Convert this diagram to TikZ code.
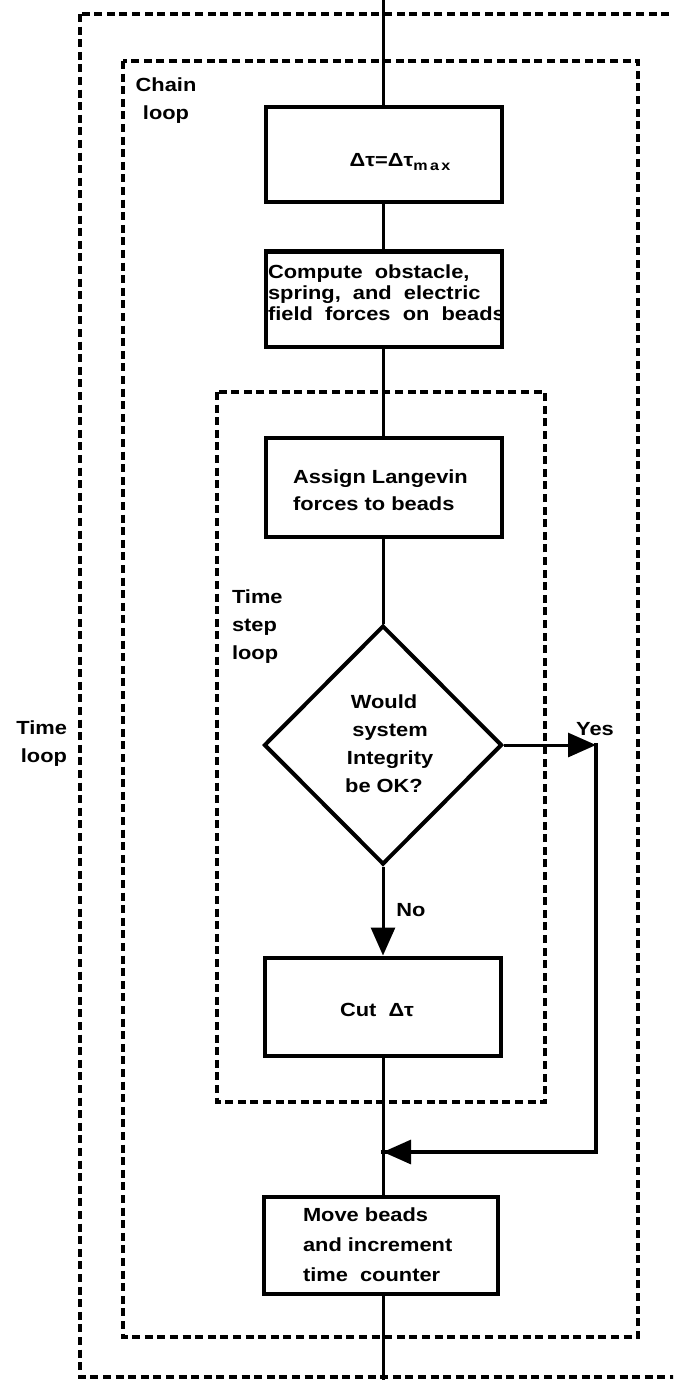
\documentclass[tikz,border=0pt]{standalone}
\usepackage{fontspec}
\setmainfont{Liberation Sans}[FakeStretch=1.15]
\usetikzlibrary{shapes.geometric,arrows.meta}
\begin{document}
\begin{tikzpicture}[x=1pt,y=-1pt,
  txt/.style={font=\bfseries\fontsize{19}{28}\selectfont,inner sep=0pt,outer sep=0pt},
  box/.style={draw,line width=4pt,inner sep=0pt,minimum width=236pt},
  loopbox/.style={draw,line width=3.4pt,dash pattern=on 8pt off 4.6pt},
  conn/.style={line width=3pt},
  tip/.style={-{Triangle[length=28pt,width=24pt]}}
]
\useasboundingbox (0,0) rectangle (673,1380);
\clip (0,0) rectangle (673,1380);
% loop frames
\draw[loopbox] (80,14) rectangle (700,1377);
\draw[loopbox] (123,61) rectangle (638,1337);
\draw[loopbox] (217,392) rectangle (545,1102);
% loop labels
\node[txt,align=right,anchor=east] (tl) at (67,744) {Time\\loop};
\node[txt,align=center] (cl) at (166,101) {Chain\\loop};
\node[txt,align=left,anchor=west] (tsl) at (232,627) {Time\\step\\loop};
% boxes
\node[box,minimum height=95pt] (top) at (384,155) {};
\node[txt] (toptxt) at (400,162) {Δτ=Δτ\raisebox{-4pt}{\fontsize{14}{14}\selectfont m\,a\,x}};
\node[box,minimum height=95pt] (comp) at (384,299) {};
\node[txt,align=left,anchor=west,font=\bfseries\fontsize{19}{21}\selectfont] (comptxt) at (268,293) {Compute\ \ obstacle,\\spring,\ \ and\ \ electric\\field\ \ forces\ \ on\ \ beads};
\node[box,minimum height=99pt] (assign) at (384,487) {};
\node[txt,align=left,anchor=west,font=\bfseries\fontsize{19}{27}\selectfont] (assigntxt) at (293,490) {Assign Langevin\\forces to beads};
\node[draw,diamond,line width=4pt,minimum width=238pt,minimum height=239pt,inner sep=0pt] (dia) at (383,745) {};
\node[txt,align=center,font=\bfseries\fontsize{19}{28}\selectfont] (diatxt) at (384,744) {Would\\\ \ system\\\ \ Integrity\\be OK?};
\node[box,minimum height=98pt] (cut) at (383,1006.5) {};
\node[txt] (cuttxt) at (377,1010) {Cut\ \ Δτ};
\node[box,minimum width=234pt,minimum height=97pt] (move) at (381,1245) {};
\node[txt,align=left,anchor=west,font=\bfseries\fontsize{19}{30}\selectfont] (movetxt) at (303,1245) {Move beads\\and increment\\time\ \ counter};
% connector coordinates
\coordinate (entry) at (383,0);
\coordinate (exit) at (383,1380);
\coordinate (yc) at (596,745);
\coordinate (yd) at (596,1152);
\coordinate (jn) at (383,1152);
% connectors
\draw[conn] (entry) -- (383,107);
\draw[conn] (383,203) -- (383,251);
\draw[conn] (383,347) -- (383,437);
\draw[conn] (383,537) -- (dia.north);
\draw[conn,tip] (dia.south) -- (cut.north);
\draw[conn] (cut.south) -- (move.north -| cut.south);
\draw[conn] (move.south -| cut.south) -- (exit);
\draw[conn,tip] (dia.east) -- (yc);
\draw[line width=4pt,line cap=rect] (yc) -- (yd) -- (jn);
\draw[conn,tip] (yd) -- (jn);
% branch labels
\node[txt] (no) at (411,910) {No};
\node[txt] (yes) at (595,729) {Yes};
\end{tikzpicture}
\end{document}
